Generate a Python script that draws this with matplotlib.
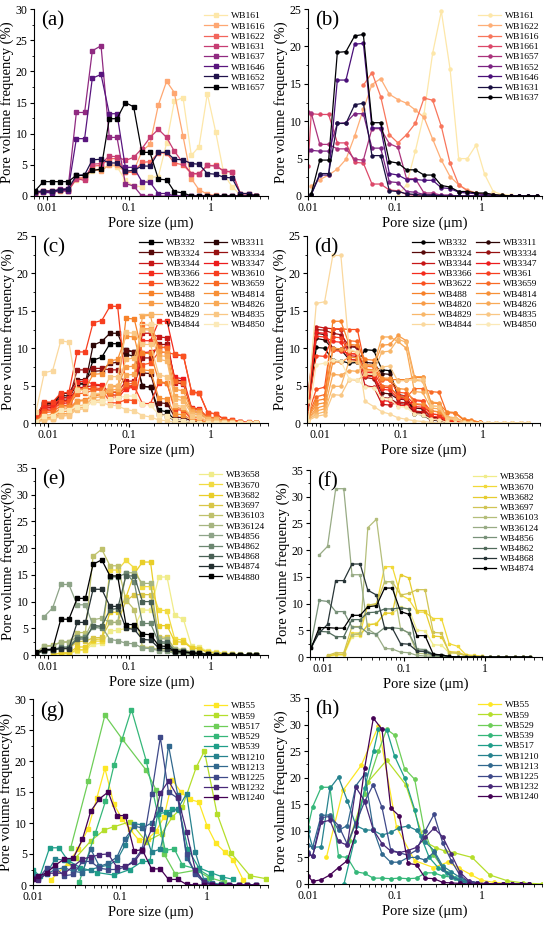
import numpy as np
import matplotlib
matplotlib.use('Agg')
import matplotlib.pyplot as plt
from matplotlib.colors import LinearSegmentedColormap
from matplotlib.ticker import LogLocator, MultipleLocator, NullFormatter

plt.rcParams['font.family'] = ['Liberation Serif', 'DejaVu Serif']

nan = np.nan

# ---------------- pore-size grids (um) ----------------
grid_std = [0.0072, 0.0091, 0.0115, 0.0145, 0.0182, 0.023, 0.029, 0.036, 0.046, 0.058,
            0.072, 0.091, 0.115, 0.145, 0.182, 0.23, 0.29, 0.36, 0.46, 0.58,
            0.72, 0.91, 1.15, 1.45, 1.82, 2.3, 2.9, 3.6]
grid_b = [0.0100, 0.0109, 0.0137, 0.0173, 0.0218, 0.0274, 0.0345, 0.0435, 0.0547, 0.0689,
          0.0867, 0.109, 0.137, 0.173, 0.218, 0.274, 0.345, 0.435, 0.547, 0.689,
          0.867, 1.09, 1.37, 1.73, 2.18, 2.74, 3.45, 4.35]
grid_g = [0.01, 0.0115, 0.0145, 0.018, 0.023, 0.029, 0.037, 0.046, 0.058, 0.073,
          0.092, 0.115, 0.145, 0.18, 0.23, 0.29, 0.36, 0.46, 0.58, 0.73,
          0.92, 1.15, 1.45, 1.8, 2.3, 2.9, 3.6]
grid_h = [0.01, 0.0113, 0.0142, 0.0179, 0.0225, 0.0284, 0.0357, 0.045, 0.0567, 0.0714,
          0.09, 0.113, 0.142, 0.179, 0.225, 0.284, 0.357, 0.45, 0.567, 0.714,
          0.9, 1.13, 1.42, 1.79, 2.25, 2.84, 3.57]

# ---------------- panel (a) ----------------
labels_a = ['WB161', 'WB1616', 'WB1622', 'WB1631', 'WB1637', 'WB1646', 'WB1652', 'WB1657']
a_WB161 = [0.4,0.6,0.6,0.8,0.8, 2.6,2.7,4.0,4.5,4.9, 4.7,2.5,1.6,1.5,3.0, 3.1,8.5,15.2,15.8,6.5, 7.9,16.4,10.3,3.5,1.5, 0.2,0.1,0.0]
a_WB1616 = [0.4,0.7,0.7,0.8,0.8, 2.8,2.9,4.3,4.0,5.0, 4.9,3.9,4.0,7.2,8.3, 14.6,18.4,16.6,9.6,2.8, 1.0,0.3,0.1,0,0, 0,0,0]
a_WB1622 = [0.5,0.8,0.8,0.9,0.9, 2.9,2.9,4.8,4.9,6.0, 6.0,3.8,3.8,5.4,5.5, 6.9,6.9,5.3,5.0,3.6, 3.5,4.9,4.9,4.0,3.8, 0.4,0.4,0.0]
a_WB1631 = [0.3,0.8,0.8,0.9,0.8, 2.8,2.5,5.1,5.2,6.4, 6.3,5.7,6.2,7.6,9.4, 10.7,9.4,7.2,5.3,3.6, 3.6,4.9,4.8,4.0,3.9, 0.4,0.3,0.0]
a_WB1637 = [0.5,0.7,0.7,1.1,1.2, 13.4,13.4,23.3,24.1,9.4, 9.4,2.0,1.6,0,0, 0,0,0,0,0, 0,0,0,0,0, 0,0,0]
a_WB1646 = [0.7,0.6,0.5,0.9,0.8, 9.2,9.2,18.9,19.5,13.2, 13.2,4.6,4.6,2.3,2.2, 0.4,0.4,0,0,0, 0,0,0,0,0, 0,0,0]
a_WB1652 = [0.7,0.8,0.8,1.0,1.1, 3.3,3.4,5.8,5.9,5.3, 5.3,4.0,4.1,4.8,4.8, 7.0,7.0,5.9,5.8,5.2, 5.1,3.6,3.5,3.0,2.9, 0.4,0.4,0.0]
a_WB1657 = [0.8,2.3,2.3,2.3,2.3, 3.3,3.3,4.1,4.3,12.4, 12.4,15.0,14.3,7.0,7.0, 2.7,2.6,0.7,0.5,0, 0,0,0,0,0, 0,0,0]
series_a = [a_WB161, a_WB1616, a_WB1622, a_WB1631, a_WB1637, a_WB1646, a_WB1652, a_WB1657]

# ---------------- panel (b) ----------------
labels_b = ['WB161', 'WB1622', 'WB1616', 'WB1661', 'WB1657', 'WB1652', 'WB1646', 'WB1631', 'WB1637']
b_WB161 = [nan]*11 + [0.0,1.5,6.0,11.0,19.1, 24.7,17.0,5.0,5.0,6.8, 2.9,0.6,0.2,0.1,0.0, 0.0,0.0]
b_WB1622 = [nan,1.3,2.2,2.8,3.6, 4.9,8.0,11.6,14.9,15.7, 13.6,12.9,12.4,11.5,10.5, 7.6,4.8,2.6,1.5,0.8, 0.4,0.3,0.2,0.1,0, 0,0,0]
b_WB1616 = [nan]*7 + [14.8,16.5,13.3, 8.2,7.1,8.2,9.7,13.1, 12.8,9.3,4.4,1.5,0.7, 0.4,0.2,0.1,0,0, 0,0,0]
b_WB1661 = [4.0,11.0,10.9,10.9,7.1, 7.1,4.5,4.4,1.6,1.6, 0.8,0.7,0.2,0.1,0, 0,0,0,0,0, 0,0,0,0,0, 0,0,0]
b_WB1657 = [11.2,11.1,6.9,6.9,6.3, 6.3,4.9,4.8,9.0,9.0, 7.0,6.5,2.3,2.3,0.4, 0.4,0.1,0.1,0,0, 0,0,0,0,0, 0,0,0]
b_WB1652 = [6.2,6.1,6.0,6.0,9.7, 9.8,11.0,11.0,6.4,6.4, 1.9,1.8,0.6,0.5,0.2, 0.2,0.1,0.1,0,0, 0,0,0,0,0, 0,0,0]
b_WB1646 = [nan,0.2,2.8,2.8,15.5, 15.5,20.3,20.4,9.1,9.1, 3.0,2.8,2.2,2.2,2.1, 2.1,1.1,1.0,0.5,0.4, 0.3,0.2,0.1,0,0, 0,0,0]
b_WB1631 = [nan,0.2,3.0,3.0,9.7, 9.7,12.2,12.4,5.4,5.4, 0.7,0.6,0.3,0.2,0.1, 0.1,0,0,0,0, 0,0,0,0,0, 0,0,0]
b_WB1637 = [nan,0.3,4.8,4.8,19.2, 19.3,21.4,21.6,9.8,9.8, 4.6,4.4,3.5,3.5,2.8, 2.8,1.4,1.2,0.6,0.6, 0.4,0.4,0.2,0.1,0, 0,0,0]
series_b = [b_WB161, b_WB1622, b_WB1616, b_WB1661, b_WB1657, b_WB1652, b_WB1646, b_WB1631, b_WB1637]

# ---------------- panel (c) ----------------
labels_c = ['WB332', 'WB3311', 'WB3324', 'WB3334', 'WB3344', 'WB3347', 'WB3366', 'WB3610', 'WB3622',
            'WB3659', 'WB488', 'WB4814', 'WB4820', 'WB4826', 'WB4829', 'WB4835', 'WB4844', 'WB4850']
c_WB332 = [0.8,2.6,2.6,3.4,3.4, 5.2,5.2,8.4,8.8,10.6, 10.6,9.7,9.5,4.9,4.8, 1.7,1.5,0.4,0.3,0.1, 0.1,0,0,0,0, 0,0,0]
c_WB3311 = [0.9,2.7,2.7,3.7,3.6, 5.3,5.3,10.4,10.9,12.0, 12.0,9.2,8.9,4.9,4.8, 1.2,1.0,0.3,0.2,0.1, 0,0,0,0,0, 0,0,0]
c_WB3324 = [0.7,2.5,2.6,3.9,4.0, 5.8,5.8,6.9,7.0,8.0, 8.1,9.8,9.5,6.7,6.6, 2.7,2.6,0.8,0.7,0.3, 0.2,0.1,0,0,0, 0,0,0]
c_WB3334 = [0.6,2.3,2.4,3.0,3.1, 7.1,7.1,7.3,7.3,7.1, 7.1,4.8,5.0,8.7,8.7, 10.5,10.5,5.8,5.6,1.6, 1.4,0.5,0.4,0.2,0.1, 0,0,0]
c_WB3344 = [0.5,2.0,2.1,2.9,3.0, 4.7,4.8,5.0,5.0,4.1, 4.1,5.6,5.6,12.0,12.0, 11.5,11.4,5.4,5.2,1.9, 1.8,0.6,0.5,0.2,0.1, 0,0,0]
c_WB3347 = [0.5,1.8,1.9,2.6,2.7, 4.6,4.6,4.5,4.4,3.8, 3.7,4.9,5.0,9.4,9.5, 10.0,10.2,6.1,5.9,2.0, 1.9,0.7,0.6,0.3,0.2, 0.1,0,0]
c_WB3366 = [0.6,2.2,2.3,3.3,3.4, 5.5,5.6,5.2,5.1,3.3, 3.3,4.6,4.8,11.0,11.0, 13.6,13.6,9.1,9.0,4.1, 4.0,1.4,1.2,0.5,0.4, 0.2,0.1,0]
c_WB3610 = [0.8,2.8,2.8,4.0,4.1, 9.5,9.5,13.4,13.7,15.6, 15.6,4.9,4.9,2.6,2.6, 5.4,5.3,1.8,1.7,0.5, 0.4,0.1,0,0,0, 0,0,0]
c_WB3622 = [0.4,1.6,1.7,2.8,2.9, 4.4,4.4,4.7,4.6,2.7, 2.7,3.1,3.0,7.8,8.0, 9.5,9.4,9.2,9.0,4.2, 4.0,1.4,1.2,0.5,0.4, 0.1,0,0]
c_WB3659 = [0.3,1.4,1.5,2.3,2.4, 3.9,4.0,4.4,4.4,3.7, 3.6,5.2,5.3,13.2,13.1, 10.2,10.0,5.6,5.4,1.9, 1.8,0.8,0.7,0.3,0.2, 0.1,0,0]
c_WB488 = [0.3,1.0,1.1,1.8,1.9, 3.0,3.1,3.6,3.8,4.1, 4.2,14.0,13.9,9.3,9.3, 5.6,5.3,2.1,1.9,0.8, 0.7,0.3,0.2,0.1,0, 0,0,0]
c_WB4814 = [0.2,0.9,1.0,2.1,2.2, 4.5,4.6,6.5,6.6,8.3, 8.5,11.6,11.5,7.1,7.0, 3.3,3.2,1.2,1.1,0.4, 0.3,0.1,0,0,0, 0,0,0]
c_WB4820 = [0.2,0.7,0.8,1.5,1.6, 2.9,3.0,3.8,3.9,4.8, 4.9,7.5,7.6,12.6,12.6, 9.6,9.4,4.5,4.3,1.6, 1.5,0.6,0.5,0.2,0.1, 0,0,0]
c_WB4826 = [0.2,0.6,0.7,1.2,1.3, 2.3,2.4,3.4,3.5,4.4, 4.5,6.4,6.5,14.3,14.4, 9.0,8.9,3.6,3.4,1.5, 1.4,0.6,0.5,0.2,0.1, 0,0,0]
c_WB4829 = [0.1,0.5,0.6,1.0,1.1, 2.0,2.1,3.0,3.1,5.0, 5.0,8.5,8.7,12.5,12.4, 8.5,8.3,3.2,3.0,1.2, 1.1,0.5,0.4,0.1,0.1, 0,0,0]
c_WB4835 = [0.1,0.4,0.5,0.9,1.0, 1.8,1.9,3.9,4.0,6.2, 6.2,12.1,12.0,10.5,10.5, 6.4,6.2,2.4,2.2,0.9, 0.8,0.3,0.2,0.1,0, 0,0,0]
c_WB4844 = [1.5,6.7,7.0,11.0,10.8, 4.4,4.3,2.8,2.7,2.4, 2.3,1.8,1.6,1.0,0.8, 0.4,0.3,0.1,0,0, 0,0,0,0,0, 0,0,0]
c_WB4850 = [0.2,0.9,1.0,1.7,1.8, 2.2,2.3,2.8,2.9,3.2, 3.3,3.6,3.6,2.5,2.4, 1.1,1.0,0.4,0.3,0.1, 0,0,0,0,0, 0,0,0]
series_c = [c_WB332, c_WB3311, c_WB3324, c_WB3334, c_WB3344, c_WB3347, c_WB3366, c_WB3610, c_WB3622,
            c_WB3659, c_WB488, c_WB4814, c_WB4820, c_WB4826, c_WB4829, c_WB4835, c_WB4844, c_WB4850]

# ---------------- panel (d) ----------------
labels_d = ['WB332', 'WB3311', 'WB3324', 'WB3334', 'WB3344', 'WB3347', 'WB3366', 'WB361', 'WB3622',
            'WB3659', 'WB488', 'WB4814', 'WB4820', 'WB4826', 'WB4829', 'WB4835', 'WB4844', 'WB4850']
d_WB332 = [2.0,10.1,10.0,8.4,8.3, 8.0,8.1,9.8,9.7,7.1, 7.0,3.5,3.4,1.2,1.1, 0.4,0.3,0.1,0,0, 0,0,0,0,0, 0,0,0]
d_WB3311 = [2.5,11.3,11.1,9.9,9.8, 8.5,8.4,8.1,8.0,6.6, 6.5,3.8,3.6,1.5,1.4, 0.5,0.4,0.1,0,0, 0,0,0,0,0, 0,0,0]
d_WB3324 = [3.0,12.0,11.8,10.0,9.9, 10.2,10.1,6.4,6.3,4.0, 3.9,3.2,3.1,2.0,1.9, 0.8,0.7,0.2,0.1,0, 0,0,0,0,0, 0,0,0]
d_WB3334 = [3.5,12.5,12.4,12.0,11.8, 10.3,10.2,6.1,5.9,3.4, 3.3,2.6,2.5,1.4,1.3, 0.5,0.4,0.1,0,0, 0,0,0,0,0, 0,0,0]
d_WB3344 = [3.9,12.9,12.7,12.6,12.5, 9.0,8.9,5.0,4.8,2.5, 2.4,2.8,2.7,1.6,1.5, 0.6,0.5,0.2,0.1,0, 0,0,0,0,0, 0,0,0]
d_WB3347 = [3.2,12.1,12.0,9.7,9.6, 9.3,9.2,6.8,6.7,3.0, 2.9,2.4,2.3,3.0,2.9, 1.2,1.1,0.3,0.2,0, 0,0,0,0,0, 0,0,0]
d_WB3366 = [2.8,11.6,11.5,10.9,10.8, 8.5,8.4,6.3,6.2,4.5, 4.4,3.3,3.2,2.2,2.1, 0.9,0.8,0.3,0.2,0.1, 0,0,0,0,0, 0,0,0]
d_WB361 = [2.0,9.0,8.9,11.5,11.4, 9.3,9.2,7.0,6.9,4.8, 4.7,3.7,3.6,2.5,2.4, 1.2,1.1,0.4,0.3,0.1, 0,0,0,0,0, 0,0,0]
d_WB3622 = [1.2,4.5,4.8,12.6,12.6, 12.5,12.5,7.6,7.5,5.8, 5.7,4.1,4.0,3.1,3.0, 1.6,1.5,0.5,0.4,0.1, 0.1,0,0,0,0, 0,0,0]
d_WB3659 = [1.0,3.5,3.8,9.8,9.7, 11.0,10.9,7.8,7.7,5.0, 4.9,3.5,3.4,4.6,4.6, 4.2,4.1,1.4,1.3,0.4, 0.3,0.1,0,0,0, 0,0,0]
d_WB488 = [0.8,3.0,3.2,13.6,13.6, 10.5,10.4,8.5,8.4,5.9, 5.8,5.8,5.8,6.1,6.1, 2.7,2.6,1.5,1.4,0.5, 0.4,0.1,0,0,0, 0,0,0]
d_WB4814 = [0.7,2.5,2.7,8.2,8.1, 8.8,8.7,7.2,7.1,6.0, 6.0,4.6,4.5,2.6,2.5, 1.6,1.5,0.6,0.5,0.2, 0.1,0,0,0,0, 0,0,0]
d_WB4820 = [0.5,2.0,2.3,10.0,9.9, 9.6,9.5,7.7,7.6,10.4, 10.5,11.7,11.0,6.2,6.2, 2.8,2.7,0.8,0.7,0.2, 0.1,0,0,0,0, 0,0,0]
d_WB4826 = [0.5,1.6,1.9,6.5,6.4, 7.0,6.9,7.7,7.8,11.5, 11.5,10.9,10.0,4.2,4.1, 2.0,1.9,0.6,0.5,0.2, 0.1,0,0,0,0, 0,0,0]
d_WB4829 = [0.4,1.2,1.5,4.9,4.9, 8.3,8.2,7.0,7.0,9.5, 9.6,11.2,10.8,5.7,5.6, 2.3,2.2,0.8,0.7,0.2, 0.1,0,0,0,0, 0,0,0]
d_WB4835 = [0.3,0.9,1.1,3.8,3.7, 5.8,5.7,6.5,6.6,7.5, 7.6,5.6,5.7,5.8,5.9, 2.3,2.2,0.6,0.5,0.1, 0,0,0,0,0, 0,0,0]
d_WB4844 = [3.0,16.0,16.2,22.4,22.4, 9.8,9.5,2.9,2.2,1.5, 1.2,0.7,0.5,0.3,0.2, 0.1,0,0,0,0, 0,0,0,0,0, 0,0,0]
d_WB4850 = [0.3,7.8,8.0,8.4,8.3, 5.9,5.8,4.8,4.7,3.3, 3.2,2.2,2.1,1.2,1.1, 0.5,0.4,0.1,0,0, 0,0,0,0,0, 0,0,0]
series_d = [d_WB332, d_WB3311, d_WB3324, d_WB3334, d_WB3344, d_WB3347, d_WB3366, d_WB361, d_WB3622,
            d_WB3659, d_WB488, d_WB4814, d_WB4820, d_WB4826, d_WB4829, d_WB4835, d_WB4844, d_WB4850]

# ---------------- panel (e) ----------------
labels_e = ['WB3658', 'WB3670', 'WB3682', 'WB3697', 'WB36103', 'WB36124', 'WB4856', 'WB4862',
            'WB4868', 'WB4874', 'WB4880']
e_WB3658 = [nan,nan,nan,0.1,0.2, 0.8,0.9,2.0,2.2,4.5, 4.6,5.0,5.2,8.4,8.4, 14.6,14.6,7.4,6.7,1.6, 1.5,0.7,0.6,0.3,0.2, 0.1,0,0]
e_WB3670 = [nan,nan,0.1,0.3,0.3, 1.0,1.0,2.6,2.6,15.9, 15.9,17.7,16.3,12.8,12.8, 8.4,8.3,3.0,2.8,1.3, 1.2,0.5,0.4,0.2,0.1, 0,0,0]
e_WB3682 = [nan,nan,0.1,0.4,0.4, 1.5,1.5,2.9,3.0,8.0, 8.0,10.8,15.2,17.4,17.4, 5.5,5.5,2.5,2.4,1.3, 1.2,0.5,0.4,0.2,0.1, 0,0,0]
e_WB3697 = [0.2,0.9,1.0,1.2,1.2, 2.5,2.6,3.2,3.3,6.1, 6.1,10.1,11.3,11.3,11.3, 3.4,3.3,1.1,1.0,0.5, 0.4,0.2,0.1,0,0, 0,0,0]
e_WB36103 = [0.4,1.7,1.8,2.4,2.5, 4.2,4.2,18.5,19.8,16.7, 16.7,10.3,8.5,1.5,1.4, 1.0,0.9,0.5,0.4,0.2, 0.1,0,0,0,0, 0,0,0]
e_WB36124 = [0.4,1.6,1.7,2.4,2.4, 3.4,3.5,6.6,6.9,6.1, 6.1,15.4,15.4,13.4,13.4, 3.1,3.0,1.1,1.0,0.5, 0.4,0.2,0.1,0,0, 0,0,0]
e_WB4856 = [nan,7.2,8.8,13.2,13.2, 9.4,9.4,5.5,5.3,2.9, 2.7,2.2,2.1,1.3,1.2, 0.8,0.7,0.3,0.2,0.1, 0,0,0,0,0, 0,0,0]
e_WB4862 = [0.3,0.8,0.9,1.5,1.5, 3.3,3.3,5.2,5.0,14.6, 14.6,15.3,13.6,5.9,5.9, 2.3,2.1,0.8,0.7,0.4, 0.3,0.1,0,0,0, 0,0,0]
e_WB4868 = [0.3,0.8,0.9,1.3,1.3, 3.0,3.0,5.5,5.4,8.5, 8.7,14.8,14.8,10.0,10.0, 2.5,2.4,0.8,0.7,0.4, 0.3,0.1,0,0,0, 0,0,0]
e_WB4874 = [0.3,0.9,1.0,1.2,1.2, 6.1,6.1,12.3,12.3,9.1, 9.1,5.0,4.8,2.9,2.8, 1.3,1.2,0.6,0.5,0.3, 0.2,0.1,0,0,0, 0,0,0]
e_WB4880 = [0.5,1.0,1.1,6.7,6.7, 10.6,10.6,17.0,17.8,14.8, 14.8,5.7,5.7,3.9,3.8, 1.7,1.6,0.7,0.6,0.4, 0.3,0.1,0,0,0, 0,0,0]
series_e = [e_WB3658, e_WB3670, e_WB3682, e_WB3697, e_WB36103, e_WB36124, e_WB4856, e_WB4862,
            e_WB4868, e_WB4874, e_WB4880]

# ---------------- panel (f) ----------------
labels_f = ['WB3658', 'WB3670', 'WB3682', 'WB3697', 'WB36103', 'WB36124', 'WB4856', 'WB4862',
            'WB4868', 'WB4874']
f_WB3658 = [nan,nan,0.1,0.3,0.3, 3.8,3.9,6.1,6.3,8.2, 8.2,9.3,9.0,5.0,4.9, 2.3,2.2,0.8,0.7,0.3, 0.2,0.1,0,0,0, 0,0,0]
f_WB3670 = [nan,nan,0.1,0.5,0.5, 4.5,4.5,9.7,9.8,16.9, 16.9,11.6,10.8,8.4,8.4, 7.2,7.2,2.5,2.0,0.4, 0.3,0.1,0,0,0, 0,0,0]
f_WB3682 = [nan,nan,0.2,0.5,0.5, 4.2,4.2,6.0,6.2,8.2, 8.2,15.4,14.8,8.7,8.7, 3.9,3.8,1.0,0.9,0.3, 0.2,0.1,0,0,0, 0,0,0]
f_WB3697 = [nan,nan,0.3,0.8,0.8, 5.7,5.7,9.7,10.0,14.1, 14.1,11.6,11.9,12.6,12.6, 4.6,4.5,0.8,0.7,0.2, 0.1,0,0,0,0, 0,0,0]
f_WB36103 = [nan,nan,nan,nan,nan, 4.2,4.4,24.2,25.8,14.1, 14.1,5.3,4.5,0.7,0.6, 0.2,0.1,0,0,0, 0,0,0,0,0, 0,0,0]
f_WB36124 = [nan,19.1,20.7,31.5,31.5, 15.4,15.4,5.2,4.2,1.6, 1.5,0.9,0.8,0.3,0.2, 0.1,0,0,0,0, 0,0,0,0,0, 0,0,0]
f_WB4856 = [2.5,10.6,10.4,8.5,8.5, 5.6,5.6,4.5,4.3,5.5, 5.5,5.3,4.5,1.5,1.4, 0.5,0.4,0.1,0,0, 0,0,0,0,0, 0,0,0]
f_WB4862 = [1.6,4.8,4.7,3.8,3.8, 7.0,7.0,8.3,8.4,9.0, 9.0,9.2,9.0,1.1,1.0, 0.3,0.2,0.1,0,0, 0,0,0,0,0, 0,0,0]
f_WB4868 = [1.8,4.5,6.1,14.3,14.3, 17.4,17.4,12.5,11.6,5.4, 5.4,2.5,2.4,1.1,1.1, 0.5,0.4,0.1,0,0, 0,0,0,0,0, 0,0,0]
f_WB4874 = [1.6,5.5,5.5,5.4,5.4, 7.8,7.8,9.4,9.6,12.9, 12.9,8.5,8.0,4.0,4.0, 0.5,0.4,0.1,0,0, 0,0,0,0,0, 0,0,0]
series_f = [f_WB3658, f_WB3670, f_WB3682, f_WB3697, f_WB36103, f_WB36124, f_WB4856, f_WB4862,
            f_WB4868, f_WB4874]

# ---------------- panel (g) ----------------
labels_g = ['WB55', 'WB59', 'WB517', 'WB529', 'WB539', 'WB1210', 'WB1213', 'WB1225', 'WB1232', 'WB1240']
g_WB55_x = [0.016,0.025,0.033,0.043,0.054,0.067,0.085,0.105,0.13,0.165,0.21,0.26,0.32,0.4,0.5,0.63,0.8,1.0,1.26,1.6,2.0,2.6]
g_WB55 = [0.8,3.5,5.8,9.1,14.0,18.8,13.0,10.7,9.0,7.2,7.5,8.7,11.0,16.9,15.0,13.8,13.4,9.5,6.7,5.3,4.0,0.8]
g_WB59_x = [0.031,0.046,0.066,0.085,0.13,0.2,0.3,0.4,0.52,0.75,0.93,1.3,1.9,3.1,4.8]
g_WB59 = [4.4,7.1,8.9,9.4,10.2,7.0,8.3,11.0,12.6,19.0,21.6,11.5,5.1,1.5,1.0]
g_WB517_x = [0.027,0.043,0.067,0.105,0.2,0.26,0.32,0.43,0.75,1.05,1.57]
g_WB517 = [5.9,16.7,27.4,23.6,18.5,15.3,5.0,1.8,2.4,1.2,0.5]
g_WB529_x = [0.034,0.052,0.068,0.085,0.135,0.2,0.27,0.33,0.42,0.52,0.8,1.1]
g_WB529 = [0.5,8.4,13.5,19.3,28.3,20.0,11.5,5.6,5.8,3.2,2.5,1.3]
g_WB539_x = [0.01,0.012,0.0155,0.02,0.025,0.035,0.055,0.085,0.13,0.18,0.22,0.27,0.34,0.4,0.48,0.6,0.8,1.1,1.5,2.0]
g_WB539 = [2.5,1.4,6.0,6.0,4.0,2.8,2.0,1.6,2.5,3.8,3.8,11.5,11.7,12.3,12.1,5.8,2.8,2.0,1.3,0.9]
g_WB1210 = [1.6,1.3,2.0,4.2,4.0, 3.0,2.3,2.5,2.9,3.2, 4.0,6.5,9.9,9.7,5.3, 5.8,11.5,12.3,14.7,5.3, 0.8,0.3,0.1,0,0, 0,0]
g_WB1213 = [1.3,1.1,1.8,2.5,2.8, 2.2,2.0,5.8,3.0,3.5, 4.5,7.5,9.5,9.2,10.0, 12.2,22.5,14.5,4.4,2.0, 0.6,0.1,0,0,0, 0,0]
g_WB1225 = [1.0,1.0,2.8,2.7,1.5, 1.7,3.8,3.8,2.7,2.5, 2.5,2.9,4.0,5.8,14.7, 23.8,15.0,14.0,5.0,1.8, 0.4,0.1,0,0,0, 0,0]
g_WB1232 = [1.2,0.8,1.9,1.9,1.9, 3.0,4.2,4.5,4.9,5.0, 2.9,3.0,3.7,5.5,9.0, 14.8,16.8,14.2,8.6,2.5, 0.5,0.1,0,0,0, 0,0]
g_WB1240 = [0.9,1.4,2.0,3.2,4.2, 4.3,7.4,11.9,13.9,15.0, 11.2,11.2,5.5,5.7,2.6, 2.6,0.9,0.9,0.1,0, 0,0,0,0,0, 0,0]
series_g = [(g_WB55_x, g_WB55), (g_WB59_x, g_WB59), (g_WB517_x, g_WB517), (g_WB529_x, g_WB529),
            (g_WB539_x, g_WB539), (grid_g, g_WB1210), (grid_g, g_WB1213), (grid_g, g_WB1225),
            (grid_g, g_WB1232), (grid_g, g_WB1240)]

# ---------------- panel (h) ----------------
labels_h = ['WB55', 'WB59', 'WB529', 'WB539', 'WB517', 'WB1210', 'WB1213', 'WB1225', 'WB1232', 'WB1240']
h_WB55_x = [0.0163,0.0253,0.041,0.065,0.105,0.17,0.28,0.41,0.55,0.75,1.0,1.4,2.0]
h_WB55 = [5.0,17.6,22.3,29.7,10.7,4.4,3.1,4.1,3.0,1.8,0.7,0.3,0.1]
h_WB59_x = [0.03,0.049,0.081,0.134,0.22,0.3,0.38,0.48,0.78,1.25,2.0,3.0,5.0]
h_WB59 = [8.3,19.2,23.3,18.7,8.0,6.8,6.2,5.9,5.0,1.7,0.6,0.2,0.0]
h_WB529_x = [0.03,0.045,0.065,0.081,0.1,0.13,0.17,0.22,0.28,0.36,0.45,0.57,0.72,0.9]
h_WB529 = [8.0,17.0,25.0,29.1,28.0,21.7,19.7,10.0,5.5,3.0,1.5,0.6,0.2,0.1]
h_WB517_x = [0.026,0.034,0.045,0.057,0.065,0.081,0.1,0.13,0.17,0.2,0.25,0.32,0.4,0.5,0.63,0.8]
h_WB517 = [0.0,8.0,18.0,25.0,29.2,29.0,24.0,20.0,14.0,9.0,5.0,3.0,2.0,1.2,0.5,0.2]
h_WB539 = [10.7,14.5,18.2,18.2,5.2, 5.0,2.3,2.0,1.1,1.1, 1.0,1.1,1.0,1.1,2.1, 2.1,1.5,1.3,0.5,0.2, 0.1,0,0,0,0, 0,0]
h_WB1210 = [10.0,6.9,7.0,18.0,20.1, 15.7,11.0,10.2,10.1,9.2, 9.7,10.6,10.9,10.1,7.9, 6.3,3.4,2.3,1.2,0.3, 0.1,0,0,0,0, 0,0]
h_WB1213 = [7.3,6.9,12.9,13.0,10.1, 11.0,18.5,20.7,10.3,5.7, 4.1,4.1,5.0,5.0,4.5, 6.0,2.9,1.4,0.6,0.2, 0.1,0,0,0,0, 0,0]
h_WB1225 = [6.0,5.2,12.5,12.7,11.0, 7.5,11.5,15.5,18.7,14.4, 6.4,5.9,5.4,6.4,10.0, 13.1,7.8,4.4,1.6,0.4, 0.1,0,0,0,0, 0,0]
h_WB1232 = [5.7,5.2,11.6,12.0,8.0, 7.3,18.2,15.6,10.2,7.6, 6.2,5.9,6.3,6.9,8.8, 10.5,8.9,5.6,2.2,0.6, 0.2,0.1,0,0,0, 0,0]
h_WB1240 = [1.5,0.5,0.8,1.7,3.1, 4.4,9.7,21.8,31.2,29.1, 14.3,12.8,3.9,3.6,1.1, 1.0,0.3,0.2,0.1,0, 0,0,0,0,0, 0,0]
series_h = [(h_WB55_x, h_WB55), (h_WB59_x, h_WB59), (h_WB529_x, h_WB529), (grid_h, h_WB539),
            (h_WB517_x, h_WB517), (grid_h, h_WB1210), (grid_h, h_WB1213), (grid_h, h_WB1225),
            (grid_h, h_WB1232), (grid_h, h_WB1240)]

# ---------------- colours ----------------
cmap_cd = LinearSegmentedColormap.from_list('cd', [(0.0, '#000000'), (0.12, '#5a0a0a'), (0.2, '#b01414'),
                                                   (0.3, '#f01c1c'), (0.45, '#fa4a20'), (0.6, '#f7862a'),
                                                   (0.8, '#f8b060'), (1.0, '#fbe9b8')])
cmap_ef = LinearSegmentedColormap.from_list('ef', [(0.0, '#f0ec8a'), (0.15, '#f2d21a'), (0.3, '#d8c648'),
                                                   (0.45, '#b2be7c'), (0.6, '#8ea488'), (0.75, '#5c7a66'),
                                                   (0.88, '#2c3a3c'), (1.0, '#000000')])
cols_a = [plt.cm.magma(v) for v in np.linspace(0.95, 0.0, 8)]
cols_b = [plt.cm.magma(v) for v in np.linspace(0.95, 0.0, 9)]
cols_cd = [cmap_cd(v) for v in np.linspace(0, 1, 18)]
cols_e = [cmap_ef(v) for v in np.linspace(0, 1, 11)]
cols_f = [cmap_ef(v) for v in np.linspace(0, 1, 10)]
cols_gh = [plt.cm.viridis(v) for v in np.linspace(1, 0, 10)]

fig = plt.figure(figsize=(5.5, 9.27), dpi=100)


def add_ax(l, t, r, b):
    return fig.add_axes([l / 550, 1 - b / 927, (r - l) / 550, (b - t) / 927])


def style(ax, xlim, ymax, ylabel, tag):
    ax.set_xscale('log')
    ax.set_xlim(*xlim)
    ax.set_ylim(0, ymax)
    ax.yaxis.set_major_locator(MultipleLocator(5))
    ax.yaxis.set_minor_locator(MultipleLocator(2.5))
    ax.set_xticks([0.01, 0.1, 1])
    ax.set_xticklabels(['0.01', '0.1', '1'])
    ax.xaxis.set_minor_locator(LogLocator(base=10, subs=np.arange(2, 10)))
    ax.xaxis.set_minor_formatter(NullFormatter())
    for s in ['top', 'right']:
        ax.spines[s].set_visible(False)
    for s in ['left', 'bottom']:
        ax.spines[s].set_linewidth(0.8)
    ax.tick_params(which='major', direction='out', length=3, width=0.8, labelsize=8.5, pad=1.5)
    ax.tick_params(which='minor', direction='out', length=1.8, width=0.6)
    ax.set_ylabel(ylabel, fontsize=10.5, labelpad=1)
    ax.set_xlabel('Pore size (μm)', fontsize=10.5, labelpad=1.5)
    ax.text(0.03, 0.99, tag, transform=ax.transAxes, fontsize=15, va='top', ha='left')


def legend(ax, ncol=1):
    handles, labs = ax.get_legend_handles_labels()
    if ncol == 2:
        order = list(range(0, len(handles), 2)) + list(range(1, len(handles), 2))
        handles = [handles[i] for i in order]
        labs = [labs[i] for i in order]
    ax.legend(handles, labs, loc='upper right', ncol=ncol, frameon=False, fontsize=6.8,
              labelspacing=0.17, handlelength=2.4, handletextpad=0.4, columnspacing=0.4,
              borderaxespad=0.1, borderpad=0.2)


def draw_grid(ax, xs, series, labels, cols, marker, ms):
    for y, lab, c in zip(series, labels, cols):
        ax.plot(xs[:len(y)], y, color=c, marker=marker, ms=ms, lw=0.9, label=lab)


def draw_xy(ax, series, labels, cols, marker, ms):
    for (x, y), lab, c in zip(series, labels, cols):
        ax.plot(x, y, color=c, marker=marker, ms=ms, lw=0.9, label=lab)


ylab = 'Pore volume frequency (%)'
ylab2 = 'Pore volume frequency(%)'

ax = add_ax(34, 9, 268, 196)
draw_grid(ax, grid_std, series_a, labels_a, cols_a, 's', 3.0)
style(ax, (0.007, 5), 30, ylab, '(a)')
legend(ax)

ax = add_ax(308, 9, 542, 196)
draw_grid(ax, grid_b, series_b, labels_b, cols_b, 'o', 2.2)
style(ax, (0.01, 5), 25, ylab, '(b)')
legend(ax)

ax = add_ax(35, 236, 268, 423)
draw_grid(ax, grid_std, series_c, labels_c, cols_cd, 's', 2.5)
style(ax, (0.007, 5), 25, ylab, '(c)')
legend(ax, ncol=2)

ax = add_ax(307, 236, 540, 423)
draw_grid(ax, grid_std, series_d, labels_d, cols_cd, 'o', 2.2)
style(ax, (0.007, 5), 25, ylab, '(d)')
legend(ax, ncol=2)

ax = add_ax(35, 468, 268, 655)
draw_grid(ax, grid_std, series_e, labels_e, cols_e, 's', 2.5)
style(ax, (0.007, 5), 35, ylab2, '(e)')
legend(ax)

ax = add_ax(310, 470, 542, 657)
draw_grid(ax, grid_std, series_f, labels_f, cols_f, 's', 2.0)
style(ax, (0.007, 5), 35, ylab, '(f)')
legend(ax)

ax = add_ax(33, 699, 268, 885)
draw_xy(ax, series_g, labels_g, cols_gh, 's', 2.4)
style(ax, (0.01, 5), 30, ylab2, '(g)')
legend(ax)

ax = add_ax(308, 698, 542, 884)
draw_xy(ax, series_h, labels_h, cols_gh, 'o', 2.4)
style(ax, (0.01, 5), 35, ylab, '(h)')
legend(ax)

fig.savefig('out.png', dpi=100)
